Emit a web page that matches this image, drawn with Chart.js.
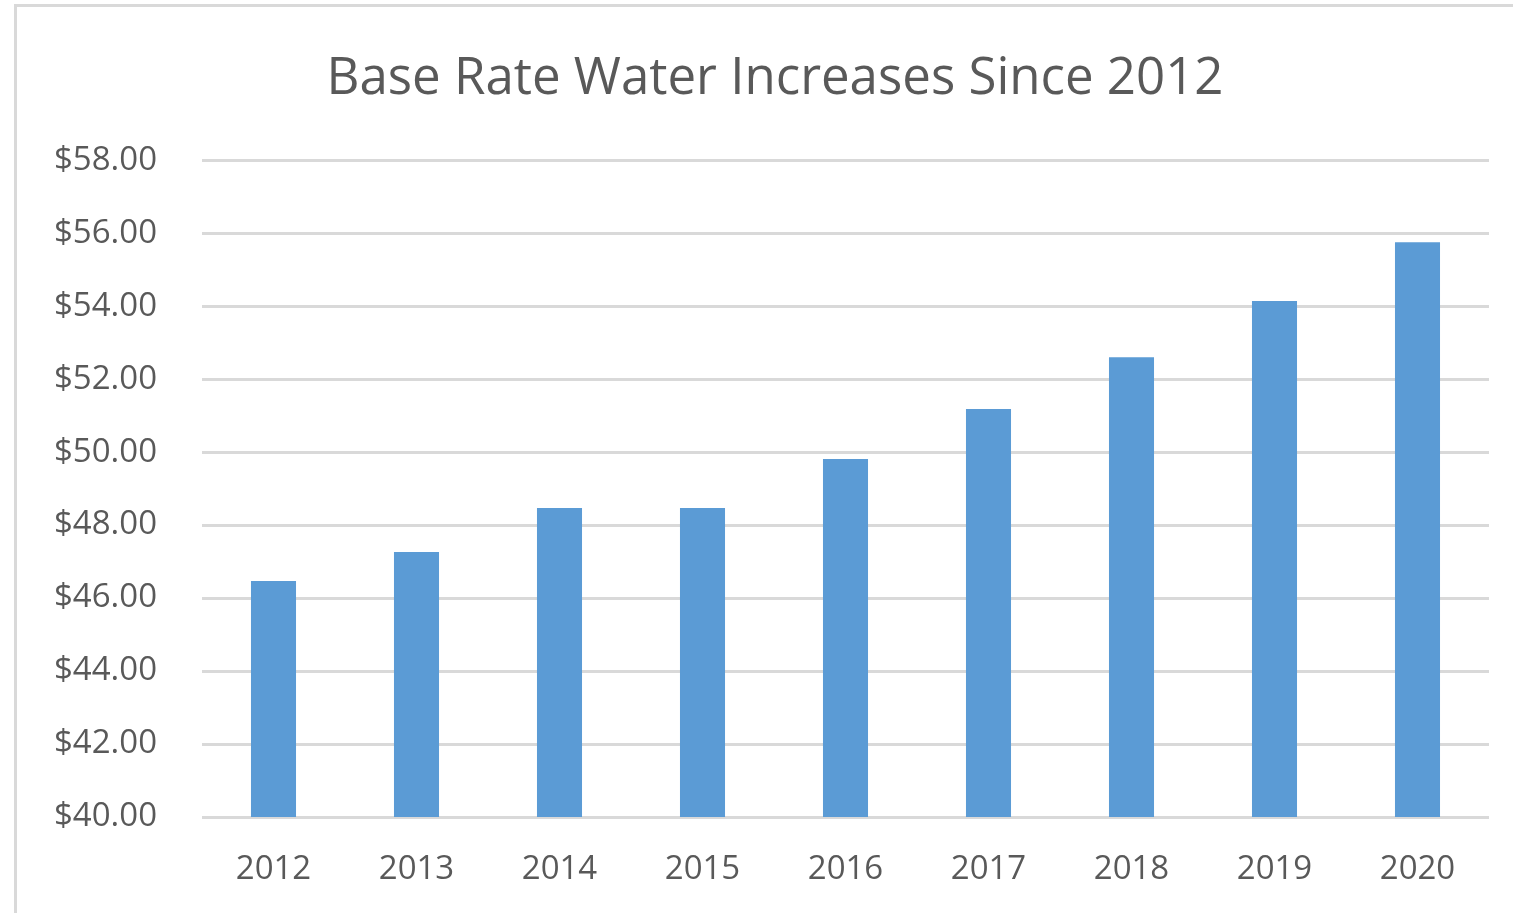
<!DOCTYPE html>
<html>
<head>
<meta charset="utf-8">
<script src="https://cdn.jsdelivr.net/npm/chart.js@4/dist/chart.umd.min.js"></script>
<style>
html,body{margin:0;padding:0;background:#fff;overflow:hidden;width:1513px;height:913px;}
#frame{position:absolute;left:14px;top:4px;width:1540px;height:920px;border-left:3px solid #d9d9d9;border-top:3px solid #d9d9d9;background:#fff;}
#wrap{position:absolute;left:0;top:0;width:1516px;height:906px;}
</style>
</head>
<body>
<div id="frame"><div id="wrap"><canvas id="c"></canvas></div></div>
<script>
const years = ["2012","2013","2014","2015","2016","2017","2018","2019","2020"];
const baseRate = [46.47, 47.26, 48.47, 48.47, 49.81, 51.18, 52.60, 54.14, 55.75];
const yMin = 40, yMax = 58, yStep = 2;
const titleText = "Base Rate Water Increases Since 2012";

const FONT = "'Open Sans', 'DejaVu Sans', sans-serif";

// center the title across the full canvas width (Excel-style)
const centerTitle = {
  id: 'centerTitle',
  afterLayout(chart) {
    const t = chart.titleBlock;
    if (t) { t.left = 0; t.right = chart.width; t.width = chart.width; }
  }
};

new Chart(document.getElementById('c'), {
  type: 'bar',
  data: {
    labels: years,
    datasets: [{
      label: 'Base Rate',
      data: baseRate,
      backgroundColor: '#5b9bd5',
      borderWidth: 0,
      barPercentage: 0.315,
      categoryPercentage: 1.0
    }]
  },
  plugins: [centerTitle],
  options: {
    responsive: true,
    maintainAspectRatio: false,
    animation: false,
    layout: { padding: { left: 0, right: 44, top: 0, bottom: 0 } },
    plugins: {
      legend: { display: false },
      tooltip: { enabled: false },
      title: {
        display: true,
        text: titleText,
        color: '#595959',
        font: { family: FONT, size: 51, weight: 'normal' },
        padding: { top: 42, bottom: 50 }
      }
    },
    scales: {
      x: {
        grid: { display: false, drawTicks: false },
        border: { display: false },
        ticks: { color: '#595959', font: { family: FONT, size: 33 }, padding: 33, maxRotation: 0 },
        afterFit: s => { s.height = 96; }
      },
      y: {
        min: yMin, max: yMax,
        grid: { color: '#d9d9d9', lineWidth: 3, drawTicks: false },
        border: { display: false },
        ticks: {
          stepSize: yStep,
          color: '#595959',
          font: { family: FONT, size: 33 },
          padding: 45,
          callback: v => '$' + Number(v).toFixed(2)
        },
        afterFit: s => { s.width = 185; }
      }
    }
  }
});
</script>
</body>
</html>
